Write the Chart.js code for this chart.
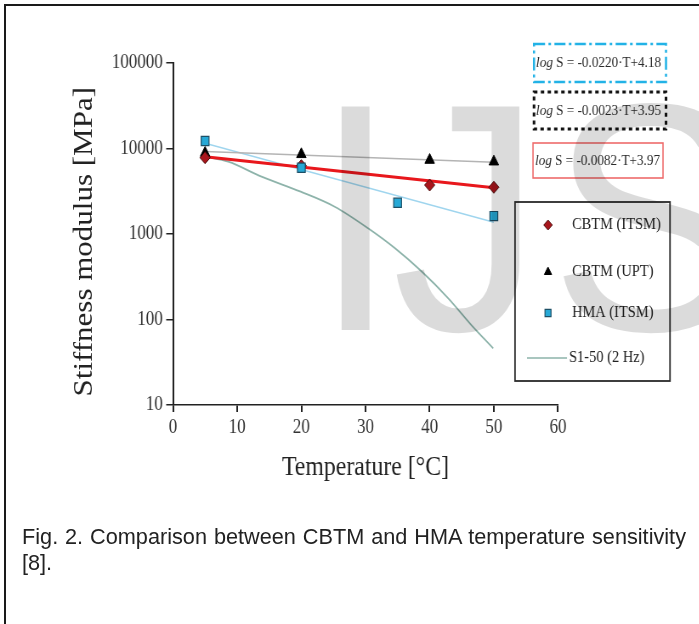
<!DOCTYPE html>
<html>
<head>
<meta charset="utf-8">
<script src="https://cdn.jsdelivr.net/npm/chart.js@4.4.1/dist/chart.umd.min.js"></script>
<style>
  html, body { margin: 0; padding: 0; background: #fff; overflow: hidden; }
  #page { position: relative; width: 699px; height: 624px; overflow: hidden; }
  #frame { position: absolute; left: 4px; top: 4px; width: 760px; height: 700px;
           border-top: 2px solid #1a1a1a; border-left: 2px solid #1a1a1a; }
  #chart { position: absolute; left: 0; top: 0; transform: scaleX(0.85); transform-origin: 0 0; }
  #caption { position: absolute; left: 22px; top: 524px; width: 664px;
             font: 21.7px "Liberation Sans", Arial, sans-serif; line-height: 26px;
             text-align: justify; color: #222; }
</style>
</head>
<body>
<div id="page">
  <div id="frame"></div>
  <canvas id="chart" width="822" height="624"></canvas>
  <div id="caption">Fig. 2. Comparison between CBTM and HMA temperature sensitivity [8].</div>
</div>
<script>
// measured points
const tempCbtm = [5, 20, 40, 50];
const cbtmItsm = [7800, 6300, 3740, 3520];
const cbtmUpt = [8850, 8550, 7330, 7010];
const tempHma = [5, 20, 35, 50];
const hmaItsm = [12250, 5960, 2320, 1620];

// fitted trend lines (end points)
const trendTemp = [5, 50];
const trendCbtmItsm = [8020, 3480];
const trendCbtmUpt = [9200, 6900];
const trendHma = [11500, 1370];

// S1-50 master curve at 2 Hz
const s150Temp = [5, 8.6, 13.8, 19.9, 25.2, 30.4, 34.6, 38.8, 42.9, 46.5, 49.9];
const s150 = [8020, 7010, 4680, 3125, 2085, 1167, 681, 362, 177, 86, 46];

const xTicks = [0, 10, 20, 30, 40, 50, 60];
const yTicks = [10, 100, 1000, 10000, 100000];

const eqLabels = [' S = -0.0220·T+4.18', ' S = -0.0023·T+3.95', ' S = -0.0082·T+3.97'];

const SX = 0.85;               // canvas is squeezed horizontally by CSS
const cx = (x) => x / SX;      // page x -> canvas x
const SERIF = '"Liberation Serif", "Times New Roman", serif';

const pairs = (xs, ys) => xs.map((x, i) => ({ x, y: ys[i] }));

const colors = {
  diamond: '#a8161c', diamondEdge: '#4a0a0a',
  square: '#27a9d6', squareEdge: '#1d4f66',
  triangle: '#000',
  red: '#e8171c', gray: '#b4b4b4', lightBlue: '#9fd5ee', curve: '#8db3aa',
};

const eqBoxes = [
  { x0: 534, x1: 666, y0: 44, y1: 82, color: '#22b2e6', width: 2.5, dash: [13, 4, 3, 4] },
  { x0: 534, x1: 666, y0: 92, y1: 129, color: '#111', width: 3, dash: [4, 4] },
  { x0: 533, x1: 663, y0: 143, y1: 178, color: '#ee6b6b', width: 1.6, dash: [] },
];

function drawEquations(c) {
  eqBoxes.forEach((b, i) => {
    c.save();
    c.strokeStyle = b.color;
    c.lineWidth = b.width;
    c.setLineDash(b.dash);
    c.strokeRect(cx(b.x0), b.y0, cx(b.x1) - cx(b.x0), b.y1 - b.y0);
    c.setLineDash([]);
    c.fillStyle = '#2a2a2a';
    c.textBaseline = 'middle';
    const y = (b.y0 + b.y1) / 2;
    let x = cx(b.x0 + 2);
    c.font = 'italic 15.5px ' + SERIF;
    c.fillText('log', x, y);
    x += c.measureText('log').width;
    c.font = '15.5px ' + SERIF;
    c.fillText(eqLabels[i], x, y);
    c.restore();
  });
}

function drawLegendBox(c, chart) {
  const left = cx(515), right = cx(670), top = 202, bottom = 381;
  c.save();
  c.strokeStyle = '#2a2a2a';
  c.lineWidth = 1.8;
  c.strokeRect(left, top, right - left, bottom - top);

  const rows = [
    { ds: chart.data.datasets[1], y: 225 },
    { ds: chart.data.datasets[2], y: 272 },
    { ds: chart.data.datasets[0], y: 313 },
    { ds: chart.data.datasets[6], y: 358 },
  ];
  c.font = '17px ' + SERIF;
  c.textBaseline = 'middle';
  rows.forEach(({ ds, y }) => {
    if (ds.pointRadius > 0) {
      c.fillStyle = ds.backgroundColor;
      c.strokeStyle = ds.borderColor;
      c.lineWidth = ds.borderWidth || 1;
      Chart.helpers.drawPoint(c, { pointStyle: ds.pointStyle, radius: 5, rotation: 0, borderWidth: ds.borderWidth || 1 }, cx(548), y);
    } else {
      c.strokeStyle = ds.borderColor;
      c.lineWidth = 1.5;
      c.beginPath();
      c.moveTo(cx(527), y);
      c.lineTo(cx(567), y);
      c.stroke();
    }
    c.fillStyle = '#222';
    c.fillText(ds.label, cx(ds.pointRadius > 0 ? 572 : 569), y);
  });
  c.restore();
}

// journal stamp behind the plot, letter by letter
function drawWatermark(c) {
  c.save();
  c.fillStyle = 'rgba(0, 0, 0, 0.14)';
  c.font = '325px "Liberation Sans", Arial, sans-serif';
  c.textBaseline = 'alphabetic';
  [['I', 314], ['J', 392], ['S', 550]].forEach(([ch, x]) => {
    c.save();
    c.translate(cx(x), 330);
    c.scale(0.92 / SX, 1);
    c.fillText(ch, 0, 0);
    c.restore();
  });
  c.restore();
}

const figureExtras = {
  id: 'figureExtras',
  afterDraw(chart) {
    const c = chart.ctx;
    drawEquations(c);
    drawLegendBox(c, chart);
    drawWatermark(c);
  },
};

const markerBase = { showLine: false, borderWidth: 1 };
const lineBase = { showLine: true, pointRadius: 0, pointHoverRadius: 0, fill: false };

new Chart(document.getElementById('chart'), {
  type: 'scatter',
  data: {
    datasets: [
      { ...markerBase, label: 'HMA (ITSM)', data: pairs(tempHma, hmaItsm), pointStyle: 'rect', pointRadius: 6.5,
        backgroundColor: colors.square, borderColor: colors.squareEdge, borderWidth: 1.2 },
      { ...markerBase, label: 'CBTM (ITSM)', data: pairs(tempCbtm, cbtmItsm), pointStyle: 'rectRot', pointRadius: 6,
        backgroundColor: colors.diamond, borderColor: colors.diamondEdge },
      { ...markerBase, label: 'CBTM (UPT)', data: pairs(tempCbtm, cbtmUpt), pointStyle: 'triangle', pointRadius: 6.5,
        backgroundColor: colors.triangle, borderColor: colors.triangle },
      { ...lineBase, label: 'CBTM (ITSM) fit', data: pairs(trendTemp, trendCbtmItsm), borderColor: colors.red, borderWidth: 3 },
      { ...lineBase, label: 'CBTM (UPT) fit', data: pairs(trendTemp, trendCbtmUpt), borderColor: colors.gray, borderWidth: 1.5 },
      { ...lineBase, label: 'HMA (ITSM) fit', data: pairs(trendTemp, trendHma), borderColor: colors.lightBlue, borderWidth: 1.5 },
      { ...lineBase, label: 'S1-50 (2 Hz)', data: pairs(s150Temp, s150), borderColor: colors.curve, borderWidth: 1.8,
        cubicInterpolationMode: 'monotone' },
    ],
  },
  options: {
    responsive: false,
    animation: false,
    events: [],
    layout: { padding: { left: 0, top: 63, right: 822 - cx(558), bottom: 119 } },
    plugins: { legend: { display: false }, tooltip: { enabled: false } },
    scales: {
      x: {
        type: 'linear',
        min: 0,
        max: 60,
        afterBuildTicks: (s) => { s.ticks = xTicks.map((v) => ({ value: v })); },
        afterFit: (s) => { s.height = 100; },
        border: { display: true, color: '#222', width: 1.5 },
        grid: { drawOnChartArea: false, drawTicks: true, tickLength: 7, color: '#222', lineWidth: 2 },
        ticks: { color: '#333', padding: 4, font: { family: SERIF, size: 20 }, maxRotation: 0 },
        title: { display: true, text: 'Temperature [°C]', color: '#222', font: { family: SERIF, size: 28 },
                 padding: { top: 0, bottom: 21 } },
      },
      y: {
        type: 'logarithmic',
        min: 10,
        max: 100000,
        afterBuildTicks: (s) => { s.ticks = yTicks.map((v) => ({ value: v })); },
        afterFit: (s) => { s.width = cx(173); },
        border: { display: true, color: '#222', width: 2 },
        grid: { drawOnChartArea: false, drawTicks: true, tickLength: 8, color: '#222', lineWidth: 1.5 },
        ticks: { color: '#333', padding: 4, font: { family: SERIF, size: 20 }, callback: (v) => String(v) },
        title: { display: true, text: 'Stiffness modulus [MPa]\u2002', color: '#222', font: { family: SERIF, size: 31 },
                 padding: { top: 81, bottom: 0 } },
      },
    },
  },
  plugins: [figureExtras],
});
</script>
</body>
</html>
